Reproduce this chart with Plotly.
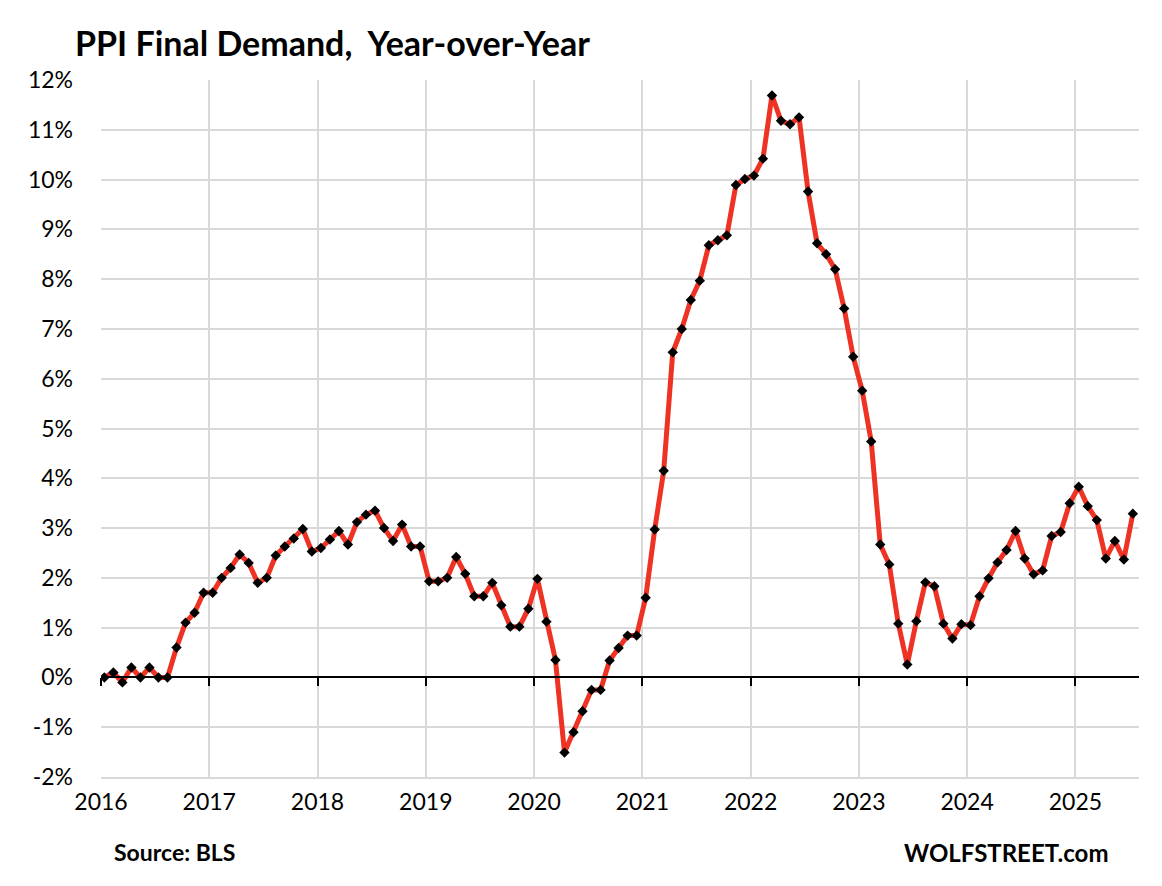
import plotly.graph_objects as go

years = ["2016", "2017", "2018", "2019", "2020", "2021", "2022", "2023", "2024", "2025"]

ppi_2016 = [0.0, 0.1, -0.1, 0.2, 0.0, 0.2, 0.0, 0.0, 0.6, 1.1, 1.3, 1.7]
ppi_2017 = [1.7, 2.0, 2.2, 2.47, 2.3, 1.9, 2.0, 2.45, 2.63, 2.79, 2.98, 2.53]
ppi_2018 = [2.6, 2.77, 2.94, 2.67, 3.12, 3.27, 3.35, 3.0, 2.74, 3.07, 2.63, 2.63]
ppi_2019 = [1.93, 1.93, 2.0, 2.42, 2.08, 1.63, 1.63, 1.9, 1.45, 1.02, 1.02, 1.38]
ppi_2020 = [1.98, 1.12, 0.35, -1.51, -1.10, -0.68, -0.25, -0.25, 0.34, 0.59, 0.84, 0.84]
ppi_2021 = [1.6, 2.97, 4.15, 6.53, 7.0, 7.58, 7.97, 8.68, 8.78, 8.88, 9.89, 10.01]
ppi_2022 = [10.08, 10.42, 11.69, 11.18, 11.11, 11.25, 9.76, 8.72, 8.5, 8.2, 7.41, 6.44]
ppi_2023 = [5.76, 4.74, 2.67, 2.27, 1.08, 0.26, 1.13, 1.91, 1.83, 1.08, 0.78, 1.07]
ppi_2024 = [1.05, 1.63, 1.99, 2.31, 2.56, 2.94, 2.39, 2.07, 2.15, 2.84, 2.92, 3.50]
ppi_2025 = [3.83, 3.44, 3.16, 2.39, 2.74, 2.37, 3.29]

ppi = (ppi_2016 + ppi_2017 + ppi_2018 + ppi_2019 + ppi_2020 + ppi_2021
       + ppi_2022 + ppi_2023 + ppi_2024 + ppi_2025)
months = list(range(len(ppi)))  # 0 = Jan 2016

y_ticks = list(range(-2, 13))
y_labels = [f"{v}%" for v in y_ticks]

FONT = "Lato, 'Open Sans', sans-serif"
GRID = "#d9d9d9"
W, H = 1154, 878  # page body has an 8px margin

year_pos = [12 * i - 0.37 for i in range(len(years))]

fig = go.Figure()
fig.add_trace(go.Scatter(
    x=months, y=ppi, mode="lines+markers",
    line=dict(color="#ee3224", width=5),
    marker=dict(symbol="diamond", size=8, color="black"),
    hoverinfo="skip", showlegend=False,
))
# invisible trace for the tick axis at zero
fig.add_trace(go.Scatter(x=[months[0]], y=[0], xaxis="x2", mode="markers",
                         marker=dict(opacity=0), showlegend=False, hoverinfo="skip"))

fig.update_layout(
    width=W, height=H,
    paper_bgcolor="white", plot_bgcolor="white",
    margin=dict(l=93, r=23, t=72, b=109),
    title=dict(text="PPI Final Demand,\u00a0 Year-over-Year",
               font=dict(family=FONT, size=34, color="black", weight="bold"),
               x=(75 - 8) / W, xanchor="left", xref="container",
               y=1 - (44 - 8) / H, yanchor="middle", yref="container"),
    xaxis=dict(range=[-0.37, 114.68], tickmode="array", tickvals=year_pos, ticktext=years,
               showgrid=True, gridcolor=GRID, gridwidth=2,
               showline=True, linecolor=GRID, linewidth=2, mirror=False,
               ticks="", zeroline=False, ticklabelstandoff=3,
               tickfont=dict(family=FONT, size=23, color="black")),
    xaxis2=dict(range=[-0.37, 114.68], overlaying="x", anchor="free", position=2 / 14,
                side="bottom", tickmode="array", tickvals=year_pos, showticklabels=False,
                showgrid=False, showline=True, linecolor="black", linewidth=2,
                ticks="outside", ticklen=8, tickwidth=2, tickcolor="black", zeroline=False),
    yaxis=dict(range=[-2, 12], tickmode="array", tickvals=y_ticks, ticktext=y_labels,
               showgrid=True, gridcolor=GRID, gridwidth=2, zeroline=False,
               showline=False, ticks="", ticklabelstandoff=27,
               tickfont=dict(family=FONT, size=23, color="black")),
    annotations=[
        dict(text="<b>Source: BLS</b>", x=(112 - 101) / 1038, y=-(852 - 777) / 697,
             xref="paper", yref="paper", xanchor="left", yanchor="middle", showarrow=False,
             font=dict(family=FONT, size=23, color="black")),
        dict(text="<b>WOLFSTREET.com</b>", x=(1110 - 101) / 1038, y=-(852 - 777) / 697,
             xref="paper", yref="paper", xanchor="right", yanchor="middle", showarrow=False,
             font=dict(family=FONT, size=24, color="black")),
    ],
)

fig.write_html("out.html")
